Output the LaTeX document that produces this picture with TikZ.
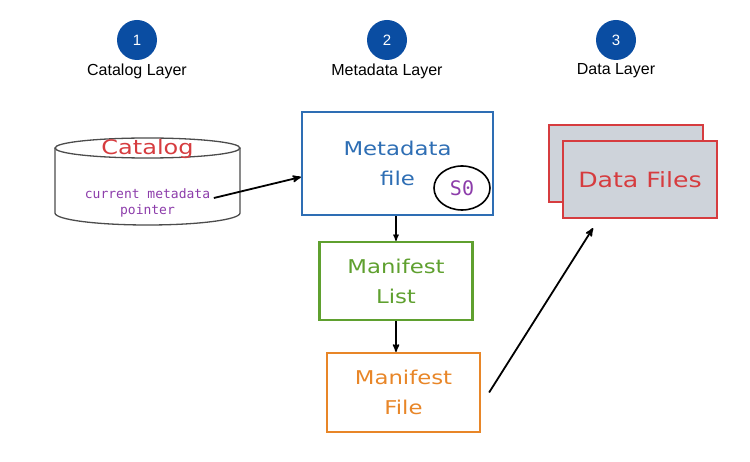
\documentclass[tikz,border=0pt]{standalone}
\usepackage{fontspec}
\setmainfont{Liberation Sans}
\newfontfamily\sketchfont[FakeStretch=1.2]{DejaVu Sans}
\newfontfamily\codefont{DejaVu Sans Mono}
\usetikzlibrary{arrows,shapes.geometric}
\definecolor{layerblue}{HTML}{0A4DA2}
\definecolor{catred}{HTML}{D63C3F}
\definecolor{metablue}{HTML}{2E6EB4}
\definecolor{listgreen}{HTML}{5FA02F}
\definecolor{fileorange}{HTML}{E88628}
\definecolor{codepurple}{HTML}{8C3CAA}
\definecolor{datagray}{HTML}{CED3DA}

\begin{document}
\begin{tikzpicture}[x=1pt,y=-1pt,>=stealth',
  thick,layer node/.style={circle,fill=layerblue,text=white,minimum size=40pt,inner sep=0pt,font=\fontsize{15}{15}\selectfont},
  title node/.style={font=\fontsize{16}{18}\selectfont},
  file node/.style={rectangle,draw,line width=2.2pt,align=center,font=\sketchfont\fontsize{19}{30}\selectfont},
  code node/.style={align=center,text=codepurple,font=\codefont\fontsize{13}{16}\selectfont}]

  \useasboundingbox (0,0) rectangle (750,462);

  \node[layer node] (01) at (137,40) {1};
  \node[layer node] (02) at (387,40) {2};
  \node[layer node] (03) at (616,40) {3};
  \node[title node] (11) at (137,71) {Catalog Layer};
  \node[title node] (12) at (387,71) {Metadata Layer};
  \node[title node] (13) at (616,71) {Data Layer};

  % catalog cylinder
  \draw[line width=1.3pt,black!70] (147.5,148) ellipse [x radius=92.5, y radius=10];
  \draw[line width=1.3pt,black!70] (55,148) -- (55,213) arc [start angle=180, end angle=0, x radius=92.5, y radius=12] -- (240,148);
  \node[font=\sketchfont\fontsize{20}{24}\selectfont,text=catred] (20) at (147.5,149) {Catalog};
  \node[code node] (ptr) at (147.5,203) {current metadata\\pointer};

  \node[file node,draw=metablue,text=metablue,minimum width=191pt,minimum height=103pt] (21) at (397.5,163.5) {Metadata\\file};
  \node[ellipse,draw,line width=1.6pt,minimum width=56pt,minimum height=44pt,text=codepurple,font=\codefont\fontsize{20}{20}\selectfont] (s0) at (462,188) {S0};
  \node[file node,draw=listgreen,text=listgreen,minimum width=153pt,minimum height=78pt] (22) at (396,281) {Manifest\\List};
  \node[file node,draw=fileorange,text=fileorange,minimum width=153pt,minimum height=79pt] (23) at (403.5,392.5) {Manifest\\File};

  \node[file node,draw=catred,fill=datagray,minimum width=154pt,minimum height=77pt] (31) at (626,163.5) {};
  \node[file node,draw=catred,fill=datagray,text=catred,minimum width=154pt,minimum height=77pt,font=\sketchfont\fontsize{21}{25}\selectfont] (32) at (640,179.5) {Data Files};

  \draw[->,line width=1.8pt] ([yshift=5pt]ptr.east) to ([yshift=-13.5pt]21.west);
  \draw[->,line width=1.3pt] (21.south -| 22.north) to (22.north);
  \draw[->,line width=1.6pt] (22.south) to (22.south |- 23.north);
  \draw[->,line width=1.8pt] ([xshift=8pt]23.east) to ([xshift=-47pt,yshift=-9pt]32.south);
\end{tikzpicture}
\end{document}
